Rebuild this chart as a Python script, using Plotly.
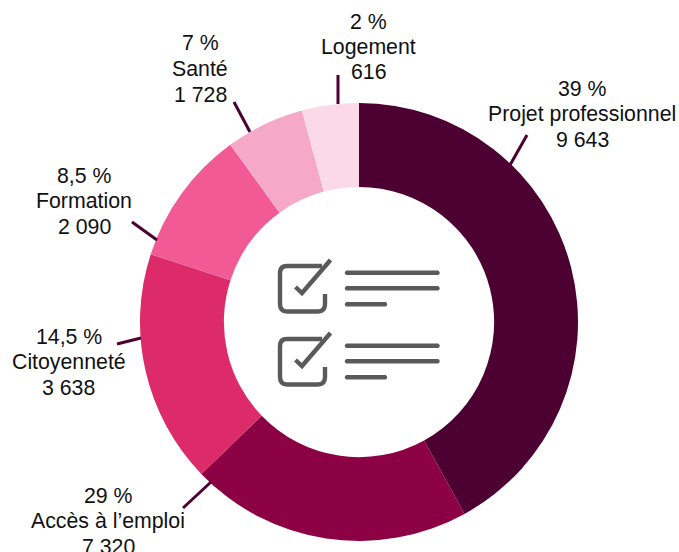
import plotly.graph_objects as go

W, H = 679, 552
categories = ["Projet professionnel", "Accès à l’emploi", "Citoyenneté", "Formation", "Santé", "Logement"]
percent_labels = ["39 %", "29 %", "14,5 %", "8,5 %", "7 %", "2 %"]
count_labels = ["9 643", "7 320", "3 638", "2 090", "1 728", "616"]
# Slice shares as they are drawn in the picture (they differ from the printed labels)
drawn_shares = [42.0, 20.8, 17.2, 10.0, 5.8, 4.2]
colors = ["#4d0032", "#8c0044", "#dd2a68", "#f25a96", "#f6a8c8", "#fbd9e6"]
label_centers = [(582, 88.5), (108, 495.5), (68.5, 336.5), (84, 175.5), (200, 43.5), (368.5, 21.5)]
leaders = [((510, 165), (527, 135)), ((211, 482), (183, 508)), ((141, 338), (117, 344)),
           ((157, 240), (132, 222)), ((250, 132), (234, 102)), ((338, 104), (338, 75))]
LINE_STEP = 25.5
CX, CY, R = 359, 322, 219
INK = "#5a5a5a"


def px(x):
    return x / W


def py(y):
    return 1 - y / H


fig = go.Figure(go.Pie(
    labels=categories, values=drawn_shares, sort=False, direction="clockwise", rotation=0,
    hole=0.617, marker=dict(colors=colors, line=dict(width=0)), textinfo="none", hoverinfo="label",
    showlegend=False,
    domain=dict(x=[px(CX - R), px(CX + R)], y=[py(CY + R), py(CY - R)]),
))

annotations = []
for (cx, cy), pct, cat, cnt in zip(label_centers, percent_labels, categories, count_labels):
    for i, line in enumerate([pct, cat, cnt]):
        annotations.append(dict(x=px(cx), y=py(cy + i * LINE_STEP), xref="paper", yref="paper",
                                text=line, showarrow=False, xanchor="center", yanchor="middle",
                                font=dict(family="Liberation Sans", size=21.3, color="#111111")))

shapes = []
for (a, b) in leaders:
    shapes.append(dict(type="line", xref="paper", yref="paper", x0=px(a[0]), y0=py(a[1]),
                       x1=px(b[0]), y1=py(b[1]), line=dict(color="#4d0032", width=3)))


def p(x, y):
    return f"{px(x):.5f},{py(y):.5f}"


def box(dy):
    return (f"M {p(322, 266 + dy)} L {p(287, 266 + dy)} Q {p(280, 266 + dy)} {p(280, 273 + dy)} "
            f"L {p(280, 304 + dy)} Q {p(280, 311.5 + dy)} {p(287, 311.5 + dy)} L {p(318, 311.5 + dy)} "
            f"Q {p(325, 311.5 + dy)} {p(325, 304 + dy)} L {p(325, 294 + dy)}")


def tick(dy):
    return f"M {p(295.5, 287 + dy)} L {p(302, 293 + dy)} L {p(330.5, 260 + dy)}"


def bar(x0, x1, y, r=2.3):
    return (f"M {p(x0 + r, y - r)} L {p(x1 - r, y - r)} Q {p(x1 + r * 0.4, y)} {p(x1 - r, y + r)} "
            f"L {p(x0 + r, y + r)} Q {p(x0 - r * 0.4, y)} {p(x0 + r, y - r)} Z")


for dy in (0, 73):
    for d in (box(dy), tick(dy)):
        shapes.append(dict(type="path", xref="paper", yref="paper", path=d,
                           line=dict(color=INK, width=4.4)))
    for y, x1 in ((272.7, 440.5), (288.3, 440.5), (304.3, 388)):
        shapes.append(dict(type="path", xref="paper", yref="paper", path=bar(344, x1, y + dy),
                           fillcolor=INK, line=dict(width=0)))

fig.update_layout(width=W, height=H, margin=dict(l=0, r=0, t=0, b=0), paper_bgcolor="white",
                  plot_bgcolor="white", annotations=annotations, shapes=shapes,
                  font=dict(family="Liberation Sans"))
fig.write_html("out.html", config=dict(displayModeBar=False),
               post_script="document.body.style.margin='0';document.body.style.overflow='hidden';")
